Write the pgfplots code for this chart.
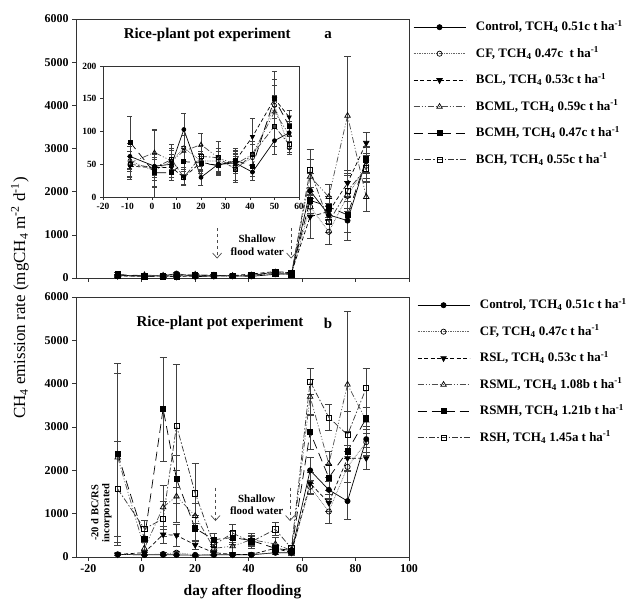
\documentclass[border=0pt]{standalone}
\usepackage{pgfplots}
\pgfplotsset{compat=1.18}
\usepackage{pgfplotstable}
\usepackage{fontspec}
\setmainfont{Liberation Serif}
\usetikzlibrary{arrows.meta}

% panel a: day, mean and error of each treatment
\pgfplotstableread{
day c ce cf cfe l le ml mle mh mhe h he
-9 62 20 55 15 47 15 52 25 84 40 50 20
1 47 55 40 25 45 20 68 35 37 20 45 15
8 50 15 55 20 45 15 55 25 37 12 57 15
13 103 25 75 20 30 10 70 25 54 20 30 12
20 30 12 55 15 53 12 80 18 52 15 62 15
27 50 12 55 15 48 12 60 25 48 15 60 15
34 52 15 45 20 55 15 50 25 56 15 42 20
41 38 12 60 20 92 28 65 20 47 15 65 20
50 86 20 140 30 150 30 130 25 150 42 108 30
56 98 15 75 10 122 10 95 20 108 25 80 12
63 2020 400 1650 200 1420 500 2350 400 1800 300 2500 480
70 1460 200 1070 280 1540 200 1880 300 1650 250 1300 250
77 1330 450 1900 350 2200 300 3760 1370 1460 400 2020 400
84 2730 300 2600 300 3130 250 1880 330 2750 300 2540 300
}\tabA

% panel b
\pgfplotstableread{
day c ce cf cfe l le ml mle mh mhe h he
-9 60 20 60 20 60 30 2300 1950 2380 2100 1570 1100
1 50 20 50 20 100 50 200 150 420 300 650 200
8 50 20 70 30 520 200 1150 500 3420 1200 880 400
13 50 20 100 30 500 250 1400 600 1800 550 3030 1420
20 40 20 50 20 280 100 950 300 660 300 1470 700
27 50 20 50 20 100 50 200 100 400 150 280 150
34 50 20 50 20 60 30 250 150 450 150 550 200
41 50 20 50 20 60 30 400 150 380 100 350 150
50 100 30 100 30 200 80 300 150 200 100 640 150
56 100 30 100 30 100 50 150 50 150 50 200 80
63 2000 300 1620 150 1700 250 3700 400 2880 400 4050 300
70 1550 200 1050 280 1250 200 2150 300 1830 300 3220 300
77 1290 430 2080 350 2280 300 3980 1700 2440 450 2820 550
84 2720 300 2650 300 2280 250 3150 300 3200 250 3900 450
}\tabB

\tikzset{
  lbl/.style={font=\bfseries\fontsize{15}{17}\selectfont},
  note/.style={align=center, font=\bfseries\fontsize{11}{12.5}\selectfont},
  arr/.style={dashed, black!70, line width=0.7bp, -{Straight Barb[length=5bp,width=9bp]}},
}
\pgfplotsset{
  sC/.style={black, solid, line width=0.7bp, mark=*, mark size=2.6bp, mark options={solid, fill=black}},
  sCF/.style={black!60, densely dotted, line width=0.7bp, mark=o, mark size=2.6bp, mark options={solid, fill=white, draw=black}},
  sL/.style={black, dash pattern=on 4bp off 2.5bp, line width=0.7bp, mark=triangle*, mark size=3.2bp, mark options={solid, rotate=180, fill=black}},
  sML/.style={black!70, dash pattern=on 6bp off 2bp on 1bp off 2bp on 1bp off 2bp, line width=0.7bp, mark=triangle, mark size=3.2bp, mark options={solid, fill=white, draw=black}},
  sMH/.style={black, dash pattern=on 9bp off 5bp, line width=0.7bp, mark=square*, mark size=2.6bp, mark options={solid, fill=black}},
  sH/.style={black!80, dash pattern=on 6bp off 2bp on 1.5bp off 2bp, line width=0.7bp, mark=square, mark size=2.6bp, mark options={solid, fill=white, draw=black}},
  base/.style={
    scale only axis, anchor=south west,
    xmin=-24.6, xmax=100, ymin=0, ymax=6000,
    xtick={-20,0,...,100}, ytick={0,1000,...,6000},
    tick align=outside, xtick pos=left, ytick pos=left,
    major tick length=4bp,
    tick style={black!80, line width=0.6bp},
    axis line style={black!80, line width=0.8bp},
    tick label style={font=\bfseries\fontsize{12}{14}\selectfont},
    /pgf/number format/assume math mode=true,
    /pgf/number format/1000 sep={},
    scaled ticks=false,
    legend cell align=left,
    legend style={draw=none, fill=none, inner sep=0pt, row sep=10.5bp,
      font=\bfseries\fontsize{13}{15}\selectfont,
      nodes={inner sep=1bp, text height=10.5bp, text depth=3.5bp},
      /tikz/every odd column/.append style={column sep=9bp}},
    legend image code/.code={\draw[mark repeat=2, mark phase=2, #1]
      plot coordinates {(0bp,0bp) (26bp,0bp) (52bp,0bp)};},
    error bars/error bar style={solid, black!75, line width=0.6bp},
    error bars/error mark options={solid, rotate=90, mark size=3.5bp, black!75, line width=0.6bp},
  },
}

\begin{document}
\begin{tikzpicture}
\path[use as bounding box] (0bp,0bp) rectangle (636bp,610bp);

% ---------- panel a ----------
\begin{axis}[base, at={(76bp,332bp)}, width=333bp, height=259bp,
  xticklabels={,,,,,,,},
  legend style={at={(1,1)}, xshift=4bp, anchor=north west}]
\addplot[sC, error bars/.cd, y dir=both, y explicit] table[x=day, y=c, y error=ce] {\tabA};
\addlegendentry{Control, TCH\textsubscript{4} 0.51c t ha\textsuperscript{-1}}
\addplot[sCF, error bars/.cd, y dir=both, y explicit] table[x=day, y=cf, y error=cfe] {\tabA};
\addlegendentry{CF, TCH\textsubscript{4} 0.47c\ \ t ha\textsuperscript{-1}}
\addplot[sL, error bars/.cd, y dir=both, y explicit] table[x=day, y=l, y error=le] {\tabA};
\addlegendentry{BCL, TCH\textsubscript{4} 0.53c t ha\textsuperscript{-1}}
\addplot[sML, error bars/.cd, y dir=both, y explicit] table[x=day, y=ml, y error=mle] {\tabA};
\addlegendentry{BCML, TCH\textsubscript{4} 0.59c t ha\textsuperscript{-1}}
\addplot[sMH, error bars/.cd, y dir=both, y explicit] table[x=day, y=mh, y error=mhe] {\tabA};
\addlegendentry{BCMH, TCH\textsubscript{4} 0.47c t ha\textsuperscript{-1}}
\addplot[sH, error bars/.cd, y dir=both, y explicit] table[x=day, y=h, y error=he] {\tabA};
\addlegendentry{BCH, TCH\textsubscript{4} 0.55c t ha\textsuperscript{-1}}
\node[lbl] at (axis cs:24.5,5625) {Rice-plant pot experiment};
\node[lbl] at (axis cs:69.7,5625) {a};
\node[note] at (axis cs:43.2,760) {Shallow\\flood water};
\draw[arr] (axis cs:28.2,1150) -- (axis cs:28.2,450);
\draw[arr] (axis cs:55.9,1150) -- (axis cs:55.9,450);
\end{axis}

% ---------- inset of panel a ----------
\begin{axis}[base, at={(103bp,413bp)}, width=196bp, height=131bp,
  xmin=-20, xmax=60, ymin=0, ymax=200,
  xtick={-20,-10,...,60}, ytick={0,50,...,200},
  major tick length=3bp,
  tick label style={font=\bfseries\fontsize{9.5}{11}\selectfont},
  axis background/.style={fill=white},
  restrict x to domain=-20:60,
  error bars/error mark options={solid, rotate=90, mark size=2.5bp, black!75, line width=0.5bp}]
\addplot[sC, mark size=2bp, error bars/.cd, y dir=both, y explicit] table[x=day, y=c, y error=ce] {\tabA};
\addplot[sCF, mark size=2bp, error bars/.cd, y dir=both, y explicit] table[x=day, y=cf, y error=cfe] {\tabA};
\addplot[sL, mark size=2.4bp, error bars/.cd, y dir=both, y explicit] table[x=day, y=l, y error=le] {\tabA};
\addplot[sML, mark size=2.4bp, error bars/.cd, y dir=both, y explicit] table[x=day, y=ml, y error=mle] {\tabA};
\addplot[sMH, mark size=2bp, error bars/.cd, y dir=both, y explicit] table[x=day, y=mh, y error=mhe] {\tabA};
\addplot[sH, mark size=2bp, error bars/.cd, y dir=both, y explicit] table[x=day, y=h, y error=he] {\tabA};
\end{axis}

% ---------- panel b ----------
\begin{axis}[base, at={(76bp,53bp)}, width=333bp, height=260bp,
  xlabel={day after flooding}, xlabel style={lbl, font=\bfseries\fontsize{15.5}{17}\selectfont, yshift=-5bp},
  legend style={at={(1,1)}, xshift=8bp, anchor=north west}]
\addplot[sC, error bars/.cd, y dir=both, y explicit] table[x=day, y=c, y error=ce] {\tabB};
\addlegendentry{Control, TCH\textsubscript{4} 0.51c t ha\textsuperscript{-1}}
\addplot[sCF, error bars/.cd, y dir=both, y explicit] table[x=day, y=cf, y error=cfe] {\tabB};
\addlegendentry{CF, TCH\textsubscript{4} 0.47c t ha\textsuperscript{-1}}
\addplot[sL, error bars/.cd, y dir=both, y explicit] table[x=day, y=l, y error=le] {\tabB};
\addlegendentry{RSL, TCH\textsubscript{4} 0.53c t ha\textsuperscript{-1}}
\addplot[sML, error bars/.cd, y dir=both, y explicit] table[x=day, y=ml, y error=mle] {\tabB};
\addlegendentry{RSML, TCH\textsubscript{4} 1.08b t ha\textsuperscript{-1}}
\addplot[sMH, error bars/.cd, y dir=both, y explicit] table[x=day, y=mh, y error=mhe] {\tabB};
\addlegendentry{RSMH, TCH\textsubscript{4} 1.21b t ha\textsuperscript{-1}}
\addplot[sH, error bars/.cd, y dir=both, y explicit] table[x=day, y=h, y error=he] {\tabB};
\addlegendentry{RSH, TCH\textsubscript{4} 1.45a t ha\textsuperscript{-1}}
\node[lbl] at (axis cs:29.3,5400) {Rice-plant pot experiment};
\node[lbl] at (axis cs:69.7,5400) {b};
\node[note] at (axis cs:43,1200) {Shallow\\flood water};
\draw[arr] (axis cs:27.6,1600) -- (axis cs:27.6,830);
\draw[arr] (axis cs:55.5,1600) -- (axis cs:55.5,830);
\node[rotate=90, align=center, font=\bfseries\fontsize{10.5}{11}\selectfont]
  at (axis cs:-15.1,1015) {-20 d BC/RS\\incorporated};
\end{axis}

\node[rotate=90, font=\fontsize{17}{19}\selectfont] at (20bp,312bp)
  {CH\textsubscript{4} emission rate (mgCH\textsubscript{4} m\textsuperscript{-2} d\textsuperscript{-1})};
\end{tikzpicture}
\end{document}
